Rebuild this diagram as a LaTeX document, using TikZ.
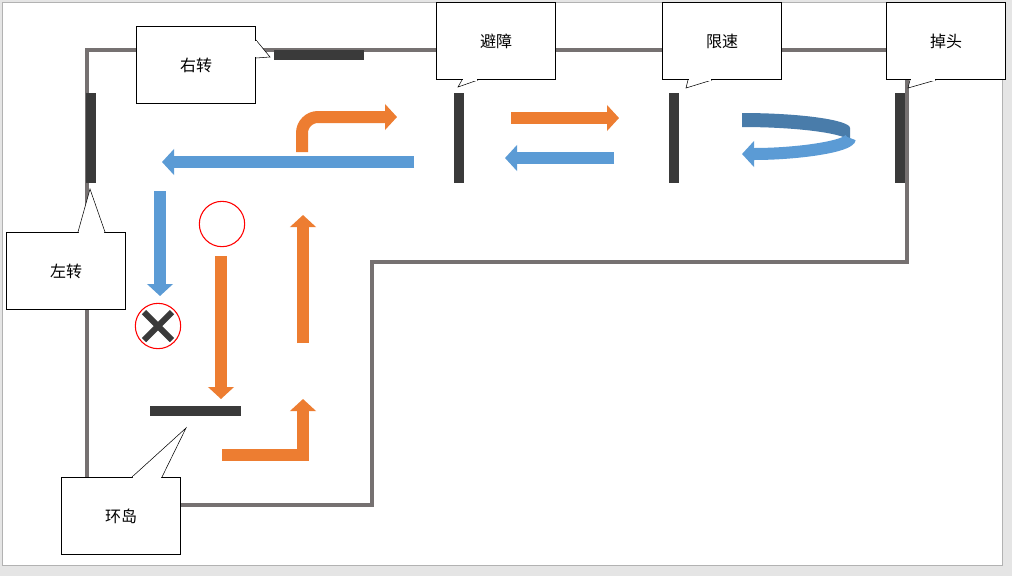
\documentclass[tikz,border=0pt]{standalone}
\usepackage{fontspec}
\setmainfont{Noto Sans CJK SC}
\usetikzlibrary{arrows.meta,positioning}
\definecolor{track}{HTML}{767171}
\definecolor{bar}{HTML}{3A3A3A}
\definecolor{ora}{HTML}{ED7D31}
\definecolor{blu}{HTML}{5B9BD5}
\begin{document}
\begin{tikzpicture}[x=0.75pt,y=-0.75pt,
  track/.style = {draw=track,line width=3pt},
  wall/.style = {draw=bar,line width=7.5pt},
  callout/.style = {draw,fill=white,minimum width=89pt,minimum height=58pt,font=\fontsize{12}{14}\selectfont},
  oarrow/.style = {draw=ora,line width=9pt,-{Triangle[width=19pt,length=9pt]}},
  barrow/.style = {draw=blu,line width=9pt,-{Triangle[width=19pt,length=9pt]}}
]
\useasboundingbox (0,0) rectangle (1012,576);
\fill[gray!20] (0,0) rectangle (1012,576);
\fill[white,draw=gray!60] (2,2) rectangle (1002,565);
% track
\draw[track] (87,50) -- (907,50) -- (907,262) -- (372,262) -- (372,505) -- (87,505) -- cycle;
% walls
\draw[wall] (274,55) -- (364,55);
\draw[wall] (91,93) -- (91,183);
\draw[wall] (459,93) -- (459,183);
\draw[wall] (674,93) -- (674,183);
\draw[wall] (900,93) -- (900,183);
\draw[wall] (150,411) -- (241,411);
% callouts
\node[callout] (rt) at (196,65) {右转};
\node[callout] (bz) at (496,41) {避障};
\node[callout] (xs) at (722,41) {限速};
\node[callout] (dt) at (946,41) {掉头};
\node[callout] (zz) at (66,271) {左转};
\node[callout] (hd) at (121,516) {环岛};
\coordinate (prt) at (270,57);
\coordinate (pbz) at (458,87);
\coordinate (pxs) at (686,88);
\coordinate (pdt) at (908,88);
\coordinate (pzz) at (90,189);
\coordinate (phd) at (186,428);
\filldraw[fill=white] (256,40) -- (prt) -- (256,58);
\draw[white,line width=1.2pt] (256,41) -- (256,57);
\filldraw[fill=white] (462,80) -- (pbz) -- (478,80);
\draw[white,line width=1.2pt] (463,80) -- (477,80);
\filldraw[fill=white] (688,80) -- (pxs) -- (712,80);
\draw[white,line width=1.2pt] (689,80) -- (711,80);
\filldraw[fill=white] (910,80) -- (pdt) -- (936,80);
\draw[white,line width=1.2pt] (911,80) -- (935,80);
\filldraw[fill=white] (78,232) -- (pzz) -- (105,232);
\draw[white,line width=1.2pt] (79,232) -- (104,232);
\filldraw[fill=white] (132,477) -- (phd) -- (162,477);
\draw[white,line width=1.2pt] (133,477) -- (161,477);
% arrows
\draw[oarrow,rounded corners=12pt] (302,152) -- (302,117) -- (397,117);
\draw[barrow] (414,162) -- (162,162);
\draw[oarrow] (511,118) -- (619,118);
\draw[barrow] (614,158) -- (505,158);
\fill[blu!80!black] (742,113) .. controls (800,113) and (850,120) .. (850,128) -- (850,142) .. controls (850,134) and (800,127) .. (742,127) -- cycle;
\draw[barrow] (850,138) .. controls (850,146) and (800,154) .. (742,154);
\draw[barrow] (160,191) -- (160,296);
\draw[oarrow] (221,256) -- (221,399);
\draw[oarrow] (303,343) -- (303,215);
\draw[oarrow] (222,455) -- (303,455) -- (303,399);
% marks
\node[circle,draw=red,thick,minimum size=34pt] (ok) at (222,224) {};
\node[circle,draw=red,thick,minimum size=34pt] (no) at (158,326) {};
\draw[bar,line width=4.5pt] (144,312) -- (172,340) (172,312) -- (144,340);
\end{tikzpicture}
\end{document}
